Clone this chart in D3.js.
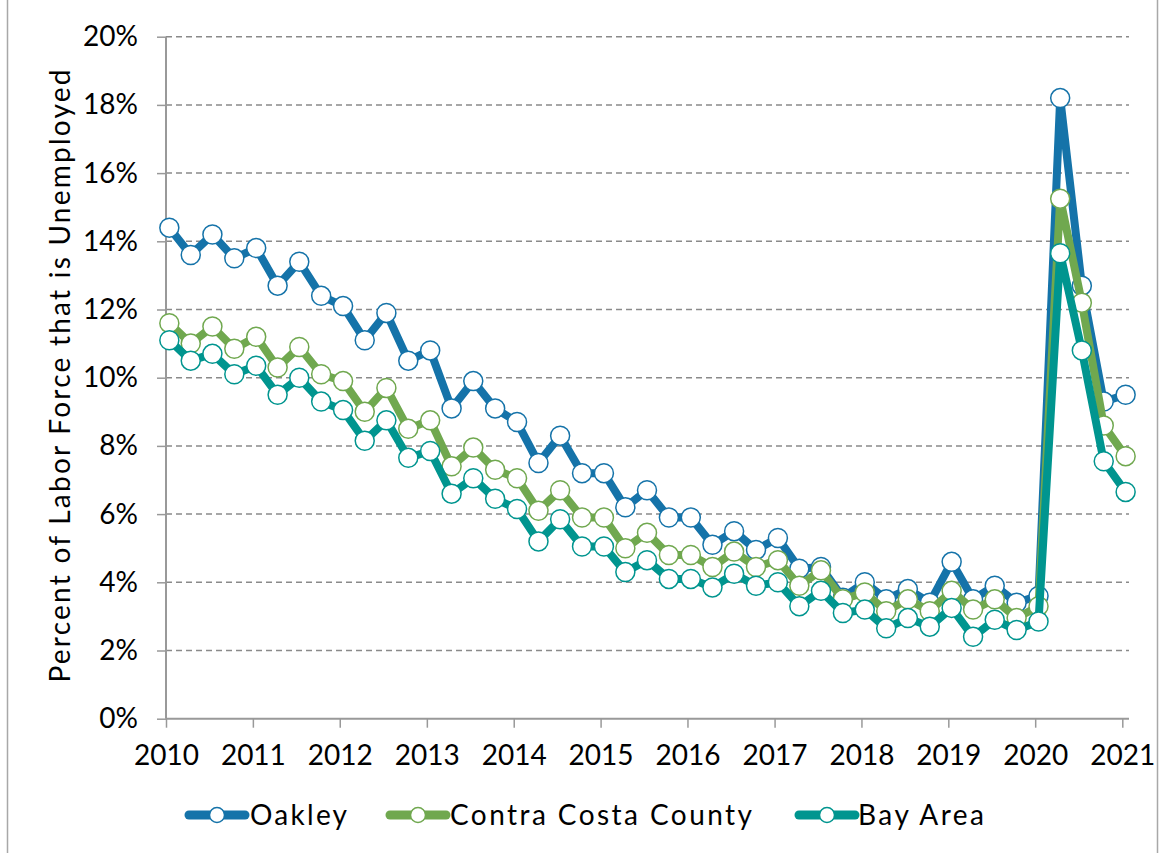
<!DOCTYPE html>
<html><head><meta charset="utf-8">
<script src="https://cdn.jsdelivr.net/npm/d3@7"></script>
<style>body{margin:0;background:#fff}svg{display:block}</style>
</head><body>
<svg id="chart" width="1159" height="853"></svg>
<script>
const dates = [
"2010-01-15","2010-04-15","2010-07-15","2010-10-15",
"2011-01-15","2011-04-15","2011-07-15","2011-10-15",
"2012-01-15","2012-04-15","2012-07-15","2012-10-15",
"2013-01-15","2013-04-15","2013-07-15","2013-10-15",
"2014-01-15","2014-04-15","2014-07-15","2014-10-15",
"2015-01-15","2015-04-15","2015-07-15","2015-10-15",
"2016-01-15","2016-04-15","2016-07-15","2016-10-15",
"2017-01-15","2017-04-15","2017-07-15","2017-10-15",
"2018-01-15","2018-04-15","2018-07-15","2018-10-15",
"2019-01-15","2019-04-15","2019-07-15","2019-10-15",
"2020-01-15","2020-04-15","2020-07-15","2020-10-15",
"2021-01-15"];
const oakley = [14.4,13.6,14.2,13.5, 13.8,12.7,13.4,12.4, 12.1,11.1,11.9,10.5, 10.8,9.1,9.9,9.1,
  8.7,7.5,8.3,7.2, 7.2,6.2,6.7,5.9, 5.9,5.1,5.5,4.95, 5.3,4.4,4.45,3.55, 4.0,3.5,3.8,3.4,
  4.6,3.5,3.9,3.4, 3.6,18.2,12.7,9.3, 9.5];
const contraCosta = [11.6,11.0,11.5,10.85, 11.2,10.3,10.9,10.1, 9.9,9.0,9.7,8.5, 8.75,7.4,7.95,7.3,
  7.05,6.1,6.7,5.9, 5.9,5.0,5.45,4.8, 4.8,4.45,4.9,4.45, 4.65,3.9,4.35,3.5, 3.7,3.15,3.5,3.15,
  3.75,3.2,3.5,2.95, 3.3,15.25,12.2,8.6, 7.7];
const bayArea = [11.1,10.5,10.7,10.1, 10.35,9.5,10.0,9.3, 9.05,8.15,8.75,7.65, 7.85,6.6,7.05,6.45,
  6.15,5.2,5.85,5.05, 5.05,4.3,4.65,4.1, 4.1,3.85,4.25,3.9, 4.0,3.3,3.75,3.1, 3.2,2.65,2.95,2.7,
  3.25,2.4,2.9,2.6, 2.85,13.65,10.8,7.55, 6.65];
const seriesNames = ["Oakley","Contra Costa County","Bay Area"];
const seriesColors = ["#1573a9","#70a84f","#00958f"];
const yTickValues = [0,2,4,6,8,10,12,14,16,18,20];
const xTickYears = [2010,2011,2012,2013,2014,2015,2016,2017,2018,2019,2020,2021];
const yTitle = "Percent of Labor Force that is Unemployed";

const svg = d3.select("#chart");
const FONT = "Lato, 'Open Sans', sans-serif";
const FW = 400;
const parse = d3.utcParse("%Y-%m-%d");

// frame
svg.append("line").attr("x1",7.5).attr("x2",7.5).attr("y1",0).attr("y2",853).attr("stroke","#a8a8a8").attr("stroke-width",1.5);
svg.append("line").attr("x1",1157.5).attr("x2",1157.5).attr("y1",0).attr("y2",853).attr("stroke","#a8a8a8").attr("stroke-width",1.5);

const x = d3.scaleUtc().domain([Date.UTC(2010,0,1), Date.UTC(2021,0,1)]).range([166, 1122.3]);
const y = d3.scaleLinear().domain([0,20]).range([718.7, 36.7]);
const plotRight = 1129;

// gridlines
svg.append("g").selectAll("line").data(yTickValues.filter(v=>v>0)).join("line")
  .attr("x1",166).attr("x2",plotRight)
  .attr("y1",d=>y(d)).attr("y2",d=>y(d))
  .attr("stroke","#8a8a8a").attr("stroke-width",1.5).attr("stroke-dasharray","6,4");

// y axis
const yAxis = d3.axisLeft(y).tickValues(yTickValues).tickFormat(d=>d+"%").tickSize(9).tickSizeOuter(0).tickPadding(19);
const gy = svg.append("g").attr("transform","translate(166,0)").call(yAxis);
gy.select(".domain").remove();
gy.selectAll(".tick line").attr("stroke","#999").attr("stroke-width",1.5);
gy.selectAll(".tick text").attr("font-family",FONT).attr("font-weight",FW).attr("font-size",28).attr("fill","#000");
svg.append("line").attr("x1",166).attr("x2",166).attr("y1",y(20)).attr("y2",y(0)).attr("stroke","#999").attr("stroke-width",2);

// x axis
const xAxis = d3.axisBottom(x).tickValues(xTickYears.map(yr=>new Date(Date.UTC(yr,0,1))))
  .tickFormat(d3.utcFormat("%Y")).tickSize(9).tickSizeOuter(0).tickPadding(17);
const gx = svg.append("g").attr("transform",`translate(0,${y(0)})`).call(xAxis);
gx.select(".domain").remove();
gx.selectAll(".tick line").attr("stroke","#999").attr("stroke-width",1.5);
gx.selectAll(".tick text").attr("font-family",FONT).attr("font-weight",FW).attr("font-size",28).attr("fill","#000");
svg.append("line").attr("x1",166).attr("x2",plotRight).attr("y1",y(0)).attr("y2",y(0)).attr("stroke","#999").attr("stroke-width",2);

// y title
svg.append("text").attr("transform","translate(70,376) rotate(-90)")
  .attr("text-anchor","middle").attr("font-family",FONT).attr("font-weight",FW).attr("font-size",28).attr("fill","#000")
  .attr("textLength",613).attr("lengthAdjust","spacing").text(yTitle);

// series
const allSeries = [oakley, contraCosta, bayArea];
const line = d3.line().x(d=>x(d.date)).y(d=>y(d.v));
allSeries.forEach((vals,si)=>{
  const pts = vals.map((v,i)=>({date:parse(dates[i]), v}));
  const g = svg.append("g");
  g.append("path").datum(pts).attr("d",line).attr("fill","none")
    .attr("stroke",seriesColors[si]).attr("stroke-width",8).attr("stroke-linejoin","round");
  g.selectAll("circle").data(pts).join("circle")
    .attr("cx",d=>x(d.date)).attr("cy",d=>y(d.v)).attr("r",9.5)
    .attr("fill","#fff").attr("stroke",seriesColors[si]).attr("stroke-width",1.5);
});

// legend
const legendItems = [
  {x1:189,x2:245,cx:217,tx:250,tl:97},
  {x1:390,x2:446,cx:418,tx:450,tl:302},
  {x1:799,x2:855,cx:827,tx:858,tl:126}
];
const ly = 815;
legendItems.forEach((it,i)=>{
  const g = svg.append("g");
  g.append("line").attr("x1",it.x1).attr("x2",it.x2).attr("y1",ly).attr("y2",ly)
    .attr("stroke",seriesColors[i]).attr("stroke-width",9).attr("stroke-linecap","round");
  g.append("circle").attr("cx",it.cx).attr("cy",ly).attr("r",7.5).attr("fill","#fff")
    .attr("stroke",seriesColors[i]).attr("stroke-width",1.5);
  g.append("text").attr("x",it.tx).attr("y",825).attr("font-family",FONT).attr("font-weight",FW).attr("font-size",28)
    .attr("fill","#000").attr("textLength",it.tl).attr("lengthAdjust","spacing").text(seriesNames[i]);
});
</script>
</body></html>
